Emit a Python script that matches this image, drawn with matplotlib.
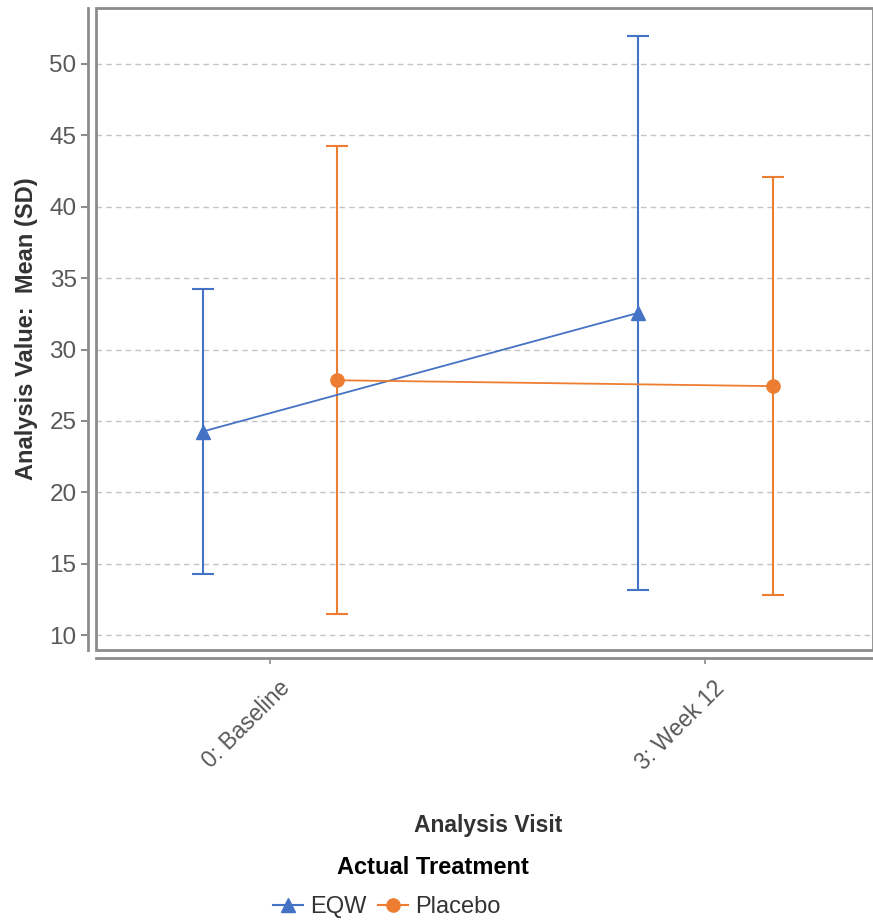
import numpy as np
import matplotlib
matplotlib.use("Agg")
import matplotlib.pyplot as plt
from matplotlib.patches import Rectangle
from matplotlib.lines import Line2D
from matplotlib.transforms import ScaledTranslation

plt.rcParams['font.family'] = ['Liberation Sans', 'DejaVu Sans']

# data
visits = ['0: Baseline', '3: Week 12']
eqw_mean = [24.26, 32.56]
eqw_sd = [9.97, 19.4]
pbo_mean = [27.85, 27.44]
pbo_sd = [16.4, 14.65]
groups = ['EQW', 'Placebo']

BLUE = '#4472C4'
ORANGE = '#ED7D31'
GRID = '#c4c4c4'
FRAME = '#8c8c8c'
TICKTXT = '#585858'

fig = plt.figure(figsize=(8.73, 9.22), dpi=100)
ax = fig.add_axes([0.110, 0.295, 0.890, 0.696])

# separate axis lines, offset from the plot frame (done first: it resets ticks)
for s in ['top', 'right']:
    ax.spines[s].set_visible(False)
for s in ['left', 'bottom']:
    ax.spines[s].set_position(('outward', 6))
    ax.spines[s].set_color(FRAME)
    ax.spines[s].set_linewidth(2)
ax.add_patch(Rectangle((0, 0), 1, 1, transform=ax.transAxes, fill=False,
                       edgecolor=FRAME, linewidth=2, clip_on=False, zorder=4))

x = np.arange(len(visits))
dodge = 0.155

ax.errorbar(x - dodge, eqw_mean, yerr=eqw_sd, color=BLUE, marker='^', markersize=9.5,
            linewidth=1.3, elinewidth=1.5, capsize=8, capthick=1.5, zorder=3)
ax.errorbar(x + dodge, pbo_mean, yerr=pbo_sd, color=ORANGE, marker='o', markersize=9.5,
            linewidth=1.3, elinewidth=1.5, capsize=8, capthick=1.5, zorder=3)

ax.set_xlim(-0.40, 1.386)
ax.set_ylim(8.96, 53.9)
ax.set_yticks(np.arange(10, 51, 5))
ax.set_xticks(x)
ax.tick_params(axis='y', labelsize=17.5, colors=FRAME, labelcolor=TICKTXT,
               length=5, width=1.5, pad=3)
ax.tick_params(axis='x', colors=FRAME, labelcolor=TICKTXT, length=4, width=1.2, pad=15)
ax.set_xticklabels(visits, rotation=45, ha='right', va='center', rotation_mode='anchor',
                   fontsize=16.5, color=TICKTXT)
shift = ScaledTranslation(0.16, 0, fig.dpi_scale_trans)
for lab in ax.get_xticklabels():
    lab.set_transform(lab.get_transform() + shift)

ax.yaxis.grid(True, color=GRID, linestyle=(0, (4, 3)), linewidth=1)
ax.set_axisbelow(True)

ax.set_ylabel('Analysis Value:  Mean (SD)', fontsize=17, fontweight='bold',
              color='#333333', labelpad=8)
fig.text(0.559, 0.105, 'Analysis Visit', ha='center', va='center',
         fontsize=16.5, fontweight='bold', color='#333333')

handles = [Line2D([], [], color=BLUE, marker='^', markersize=9.5, linewidth=1.5),
           Line2D([], [], color=ORANGE, marker='o', markersize=9.5, linewidth=1.5)]
leg = fig.legend(handles, groups, loc='center', bbox_to_anchor=(0.443, 0.0163),
                 ncol=2, frameon=False, fontsize=17, handlelength=1.3,
                 handletextpad=0.3, columnspacing=0.45, borderpad=0)
for t in leg.get_texts():
    t.set_color('#333333')
fig.text(0.496, 0.0586, 'Actual Treatment', ha='center', va='center',
         fontsize=17, fontweight='bold', color='black')

fig.savefig('out.png', dpi=100)
